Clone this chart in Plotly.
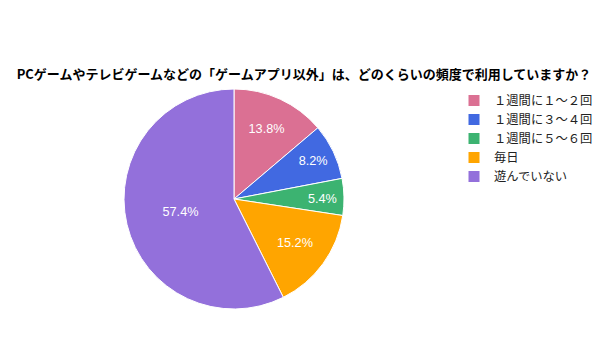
import plotly.graph_objects as go

title = "PCゲームやテレビゲームなどの「ゲームアプリ以外」は、どのくらいの頻度で利用していますか？"
labels = ["１週間に１～２回", "１週間に３～４回", "１週間に５～６回", "毎日", "遊んでいない"]
values = [13.8, 8.2, 5.4, 15.2, 57.4]
colors = ["#db7093", "#4169e1", "#3cb371", "#ffa500", "#9370db"]

W, H = 608, 343
cx, cy, r = 234, 199, 110

fig = go.Figure(go.Pie(
    labels=labels,
    values=values,
    sort=False,
    direction="clockwise",
    rotation=0,
    marker=dict(colors=colors, line=dict(color="white", width=1)),
    texttemplate="%{percent:.1%}",
    textposition="inside",
    insidetextorientation="horizontal",
    textfont=dict(color="white", size=12.7, family="Liberation Sans, Arial, sans-serif"),
    hoverinfo="label+percent",
    domain=dict(x=[(cx - r) / W, (cx + r) / W], y=[(H - cy - r) / H, (H - cy + r) / H]),
))

fig.update_layout(
    width=W, height=H,
    margin=dict(l=0, r=0, t=0, b=0),
    paper_bgcolor="white",
    plot_bgcolor="white",
    font=dict(family="Noto Sans CJK JP, sans-serif", color="#222222"),
    title=dict(text="<b>" + title + "</b>", x=0.5, xanchor="center", y=1 - 74 / H, yanchor="middle",
               font=dict(size=13, color="#000000", family="Noto Sans CJK JP, sans-serif")),
    legend=dict(x=(474 - 20) / W, xanchor="left", y=1 - 86 / H, yanchor="top",
                font=dict(size=12.3, color="#222222", family="Noto Sans CJK JP, sans-serif"),
                itemwidth=30, tracegroupgap=0),
    uniformtext=dict(minsize=12.7, mode="show"),
)

fig.write_html("out.html")
